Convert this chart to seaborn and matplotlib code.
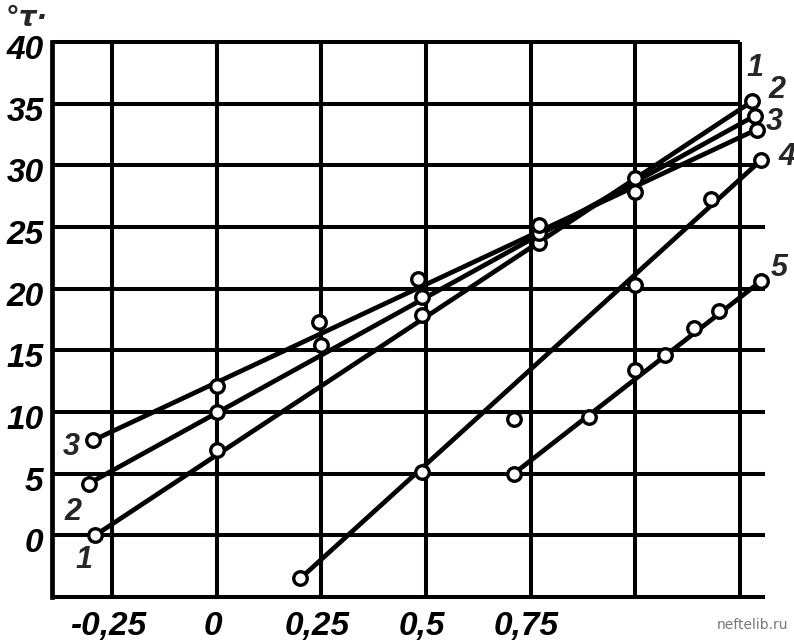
import matplotlib
matplotlib.use("Agg")
import matplotlib.pyplot as plt
import matplotlib.transforms as mtransforms
import numpy as np
import pandas as pd
import seaborn as sns

# ---------------- data ----------------
x_ticks = [-0.25, 0.0, 0.25, 0.5, 0.75, 1.0, 1.25]
x_tick_labels = ["-0,25", "0", "0,25", "0,5", "0,75", "", ""]
y_ticks = [0, 5, 10, 15, 20, 25, 30, 35, 40]
y_tick_labels = ["0", "5", "10", "15", "20", "25", "30", "35", "40"]
y_ylabel = "°τ·"

curve_names = ["1", "2", "3", "4", "5"]

c1_x = [-0.29, 0.0, 0.49, 0.77, 1.28]
c1_y = [0.0, 6.9, 17.9, 23.7, 35.2]

c2_x = [-0.305, 0.0, 0.25, 0.49, 0.77, 1.0, 1.285]
c2_y = [4.2, 10.0, 15.4, 19.3, 24.5, 27.8, 34.0]

c3_x = [-0.295, 0.0, 0.245, 0.48, 0.77, 1.0, 1.29]
c3_y = [7.7, 12.1, 17.3, 20.8, 25.2, 29.0, 32.9]

c4_x = [0.2, 0.49, 0.71, 1.0, 1.18, 1.30]
c4_y = [-3.5, 5.1, 9.4, 20.3, 27.3, 30.4]

c5_x = [0.71, 0.89, 1.0, 1.07, 1.14, 1.20, 1.30]
c5_y = [5.0, 9.6, 13.4, 14.6, 16.8, 18.2, 20.6]

# label positions for curve numbers (right end and left start)
right_label_x = [1.286, 1.338, 1.333, 1.362, 1.345]
right_label_y = [37.9, 36.1, 33.5, 30.7, 21.7]
left_label_names = ["1", "2", "3"]
left_label_x = [-0.317, -0.343, -0.346]
left_label_y = [-2.0, 1.9, 7.15]

# ---------------- frames ----------------
xs = [c1_x, c2_x, c3_x, c4_x, c5_x]
ys = [c1_y, c2_y, c3_y, c4_y, c5_y]
pts = pd.concat([pd.DataFrame({"x": x, "y": y, "curve": n})
                 for n, x, y in zip(curve_names, xs, ys)], ignore_index=True)
lines = pd.concat([pd.DataFrame({"x": [x[0], x[-1]], "y": [y[0], y[-1]], "curve": n})
                   for n, x, y in zip(curve_names, xs, ys)], ignore_index=True)

# ---------------- style ----------------
sns.set_theme(style="white")
plt.rcParams["font.family"] = ["Liberation Sans", "DejaVu Sans"]

W, H = 794, 641
fig = plt.figure(figsize=(W / 100, H / 100), dpi=100)
ax = fig.add_axes([52 / W, 1 - 597 / H, (765 - 52) / W, (597 - 42) / H])

XMIN, XMAX = -0.393, 1.31
YMIN, YMAX = -5, 40
ax.set_xlim(XMIN, XMAX)
ax.set_ylim(YMIN, YMAX)

GRID_LW = 2.9
# horizontal grid lines
for yv in [-5] + y_ticks:
    xr = 1.25 if yv >= 35 else XMAX
    ax.hlines(yv, XMIN, xr, color="black", lw=GRID_LW, zorder=1, clip_on=False)
# vertical grid lines
for xv in x_ticks:
    ax.vlines(xv, YMIN, YMAX, color="black", lw=GRID_LW, zorder=1, clip_on=False)

for s in ["top", "right", "bottom"]:
    ax.spines[s].set_visible(False)
ax.spines["left"].set_color("black")
ax.spines["left"].set_linewidth(3.4)

# lines
sns.lineplot(data=lines, x="x", y="y", units="curve", estimator=None, sort=False,
             color="black", lw=3.4, ax=ax, legend=False, zorder=3)
for l in ax.lines:
    l.set_clip_on(False)
# circles
sns.scatterplot(data=pts, x="x", y="y", marker="o", s=95, color="white",
                edgecolor="black", linewidth=2.4, ax=ax, legend=False,
                zorder=5, clip_on=False)

# ticks
lab_font = dict(fontsize=24, fontweight="bold", fontstyle="italic")
ax.set_xticks(x_ticks)
ax.set_xticklabels(x_tick_labels, **lab_font)
ax.set_yticks(y_ticks)
ax.set_yticklabels(y_tick_labels, **lab_font)
ax.tick_params(axis="both", length=0, colors="black")
ax.tick_params(axis="x", pad=10)
ax.tick_params(axis="y", pad=6)
off = mtransforms.ScaledTranslation(0, -5 / 100, fig.dpi_scale_trans)
for t in ax.get_yticklabels():
    t.set_transform(t.get_transform() + off)
offx = mtransforms.ScaledTranslation(-4 / 100, 0, fig.dpi_scale_trans)
for t in ax.get_xticklabels():
    t.set_transform(t.get_transform() + offx)
ax.set_xlabel("")
ax.set_ylabel("")

# curve labels
for n, xv, yv in zip(curve_names, right_label_x, right_label_y):
    ax.text(xv, yv, n, ha="center", va="center", fontsize=22,
            fontweight="bold", fontstyle="italic", clip_on=False)
for n, xv, yv in zip(left_label_names, left_label_x, left_label_y):
    ax.text(xv, yv, n, ha="center", va="center", fontsize=22,
            fontweight="bold", fontstyle="italic", clip_on=False)

# axis symbol and watermark
fig.text(6 / W, 1 - 4 / H, y_ylabel, ha="left", va="top", fontsize=20,
         fontweight="bold", fontstyle="italic", family=["DejaVu Sans"])
fig.text(788 / W, 1 - 625 / H, "neftelib.ru", ha="right", va="center",
         fontsize=10, color="#777777", family=["DejaVu Sans"])

fig.savefig("out.png", dpi=100, facecolor="white")
